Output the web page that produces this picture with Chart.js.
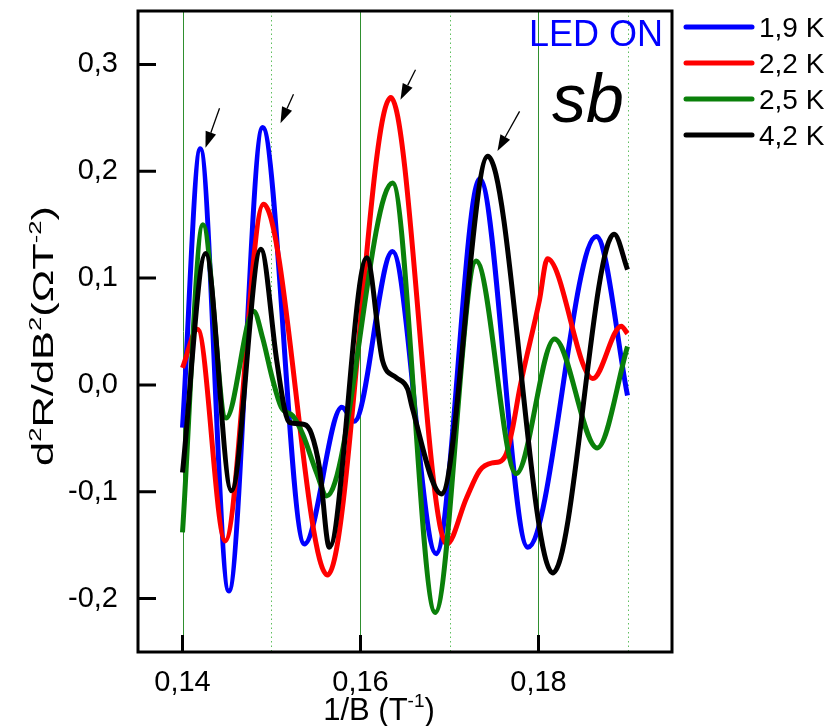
<!DOCTYPE html>
<html>
<head>
<meta charset="utf-8">
<script src="https://cdn.jsdelivr.net/npm/chart.js@4.4.1/dist/chart.umd.min.js"></script>
<style>
  html, body { margin: 0; padding: 0; background: #fff; }
</style>
</head>
<body>
<canvas id="sdh" width="832" height="726"></canvas>
<script>
// d2R/dB2 versus 1/B at four temperatures
const seriesLabels = ['1,9 K', '2,2 K', '2,5 K', '4,2 K'];
const seriesColors = ['#0000ff', '#ff0000', '#0a800a', '#000000'];

const invB_19 = [0.1400, 0.1420, 0.1452, 0.1490, 0.1537, 0.1579, 0.1593, 0.1636, 0.1685, 0.1734, 0.1788, 0.1865, 0.1900];
const d2R_19  = [-0.040, 0.221, -0.193, 0.241, -0.149, -0.021, -0.034, 0.125, -0.158, 0.193, -0.152, 0.139, -0.010];

const invB_22 = [0.1400, 0.1417, 0.1448, 0.1491, 0.1563, 0.1634, 0.1697, 0.1719, 0.1734, 0.1748, 0.1756, 0.1764, 0.1771, 0.1779, 0.1801, 0.1810, 0.1861, 0.1893, 0.1900];
const d2R_22  = [0.016, 0.052, -0.146, 0.169, -0.178, 0.269, -0.149, -0.106, -0.080, -0.073, -0.072, -0.064, -0.040, -0.003, 0.079, 0.118, 0.006, 0.055, 0.048];

const invB_25 = [0.1400, 0.1423, 0.1449, 0.1480, 0.1490, 0.1501, 0.1511, 0.1524, 0.1535, 0.1551, 0.1562, 0.1636, 0.1684, 0.1730, 0.1775, 0.1818, 0.1866, 0.1900];
const d2R_25  = [-0.138, 0.150, -0.031, 0.069, 0.044, 0.006, -0.021, -0.029, -0.046, -0.083, -0.104, 0.189, -0.213, 0.116, -0.083, 0.043, -0.059, 0.036];

const invB_42 = [0.1400, 0.1426, 0.1455, 0.1488, 0.1506, 0.1515, 0.1520, 0.1537, 0.1545, 0.1554, 0.1565, 0.1607, 0.1625, 0.1640, 0.1653, 0.1658, 0.1691, 0.1743, 0.1816, 0.1885, 0.1900];
const d2R_42  = [-0.082, 0.123, -0.099, 0.127, 0.022, -0.024, -0.035, -0.037, -0.046, -0.078, -0.152, 0.119, 0.022, 0.007, -0.004, -0.021, -0.102, 0.214, -0.176, 0.141, 0.108];

const xTickValues = [0.14, 0.16, 0.18];
const xMinorGrid = [0.15, 0.17, 0.19];
const yTickValues = [-0.2, -0.1, 0.0, 0.1, 0.2, 0.3];

// arrows marking the peaks: [tail x, tail y, head x, head y] in axis units
const peakArrows = [
  [0.14416, 0.259, 0.14258, 0.222],
  [0.15247, 0.272, 0.15101, 0.245],
  [0.16618, 0.295, 0.16449, 0.267],
  [0.17787, 0.256, 0.17539, 0.219]
];

const FONT = "'Liberation Sans', Arial, sans-serif";

const toPoints = (xs, ys) => xs.map((x, i) => ({ x, y: ys[i] }));
const comma = (v, d) => v.toFixed(d).replace('.', ',');

const curves = [
  toPoints(invB_19, d2R_19),
  toPoints(invB_22, d2R_22),
  toPoints(invB_25, d2R_25),
  toPoints(invB_42, d2R_42)
];

function drawArrow(ctx, x1, y1, x2, y2) {
  const ang = Math.atan2(y2 - y1, x2 - x1);
  const len = 16, half = 5.5;
  const bx = x2 - len * Math.cos(ang), by = y2 - len * Math.sin(ang);
  ctx.beginPath();
  ctx.moveTo(x1, y1);
  ctx.lineTo(bx, by);
  ctx.stroke();
  ctx.beginPath();
  ctx.moveTo(x2, y2);
  ctx.lineTo(bx + half * Math.sin(ang), by - half * Math.cos(ang));
  ctx.lineTo(bx - half * Math.sin(ang), by + half * Math.cos(ang));
  ctx.closePath();
  ctx.fill();
}

// text made of normal and raised runs, centred on the current origin
function drawRuns(ctx, runs, size) {
  const big = size + 'px ' + FONT, small = Math.round(size * 0.6) + 'px ' + FONT;
  let w = 0;
  runs.forEach(([t, sup]) => { ctx.font = sup ? small : big; w += ctx.measureText(t).width; });
  let x = -w / 2;
  runs.forEach(([t, sup]) => {
    ctx.font = sup ? small : big;
    ctx.fillText(t, x, sup ? -size * 0.42 : 0);
    x += ctx.measureText(t).width;
  });
}

const frame = {
  id: 'frame',
  beforeDatasetsDraw(chart) {
    const { ctx, chartArea: a, scales: { x } } = chart;
    ctx.save();
    ctx.lineWidth = 1;
    ctx.strokeStyle = '#2f8f2f';
    xTickValues.forEach(v => {
      const px = Math.round(x.getPixelForValue(v)) + 0.5;
      ctx.beginPath(); ctx.moveTo(px, a.top); ctx.lineTo(px, a.bottom); ctx.stroke();
    });
    ctx.strokeStyle = '#5fbf5f';
    ctx.setLineDash([1.5, 3]);
    xMinorGrid.forEach(v => {
      const px = Math.round(x.getPixelForValue(v)) + 0.5;
      ctx.beginPath(); ctx.moveTo(px, a.top); ctx.lineTo(px, a.bottom); ctx.stroke();
    });
    ctx.restore();
  },
  afterDatasetsDraw(chart) {
    const { ctx, chartArea: a, scales: { x, y } } = chart;
    ctx.save();

    // box and inward ticks
    ctx.strokeStyle = '#000';
    ctx.lineWidth = 3;
    ctx.strokeRect(a.left, a.top, a.right - a.left, a.bottom - a.top);
    ctx.beginPath();
    xTickValues.forEach(v => {
      const px = x.getPixelForValue(v);
      ctx.moveTo(px, a.bottom); ctx.lineTo(px, a.bottom - 17);
    });
    yTickValues.forEach(v => {
      const py = y.getPixelForValue(v);
      ctx.moveTo(a.left, py); ctx.lineTo(a.left + 18, py);
    });
    ctx.stroke();

    // peak arrows
    ctx.lineWidth = 1.3;
    ctx.fillStyle = '#000';
    peakArrows.forEach(([tx, ty, hx, hy]) => {
      drawArrow(ctx, x.getPixelForValue(tx), y.getPixelForValue(ty),
                     x.getPixelForValue(hx), y.getPixelForValue(hy));
    });

    // labels inside the frame
    ctx.textBaseline = 'alphabetic';
    ctx.textAlign = 'right';
    ctx.fillStyle = '#0000ff';
    ctx.font = '36px ' + FONT;
    ctx.fillText('LED ON', a.right - 9, a.top + 35);
    ctx.textAlign = 'left';
    ctx.fillStyle = '#000';
    ctx.font = 'italic 68px ' + FONT;
    ctx.fillText('sb', a.right - 120, a.top + 111);

    // legend to the right of the frame
    ctx.font = '28px ' + FONT;
    chart.data.datasets.forEach((ds, i) => {
      const ly = 27 + i * 36;
      ctx.strokeStyle = ds.borderColor;
      ctx.lineWidth = 5;
      ctx.lineCap = 'round';
      ctx.beginPath(); ctx.moveTo(686, ly); ctx.lineTo(752, ly); ctx.stroke();
      ctx.fillStyle = '#000';
      ctx.fillText(ds.label, 759, ly + 10);
    });

    // axis titles
    ctx.fillStyle = '#000';
    ctx.textAlign = 'left';
    ctx.save();
    ctx.translate(379, 720);
    drawRuns(ctx, [['1/B (T', false], ['-1', true], [')', false]], 31);
    ctx.restore();

    ctx.save();
    ctx.translate(53, 336);
    ctx.rotate(-Math.PI / 2);
    ctx.scale(1.5, 1);
    drawRuns(ctx, [['d', false], ['2', true], ['R/dB', false], ['2', true], ['(\u03A9T', false], ['-2', true], [')', false]], 29);
    ctx.restore();

    ctx.restore();
  }
};

new Chart(document.getElementById('sdh'), {
  type: 'line',
  data: {
    datasets: curves.map((pts, i) => ({
      label: seriesLabels[i],
      data: pts,
      borderColor: seriesColors[i],
      borderWidth: 5,
      pointRadius: 0,
      fill: false,
      cubicInterpolationMode: 'monotone',
      order: 3 - i
    }))
  },
  options: {
    responsive: false,
    animation: false,
    events: [],
    layout: { padding: { top: 11, right: 160, bottom: 0, left: 0 } },
    plugins: { legend: { display: false }, tooltip: { enabled: false } },
    scales: {
      x: {
        type: 'linear',
        min: 0.135,
        max: 0.195,
        grid: { display: false, drawTicks: false },
        border: { display: false },
        afterBuildTicks: s => { s.ticks = xTickValues.map(v => ({ value: v })); },
        afterFit: s => { s.height = 74; s.paddingLeft = 0; s.paddingRight = 0; },
        ticks: {
          color: '#000',
          padding: 14,
          font: { family: FONT, size: 29 },
          callback: v => comma(v, 2)
        }
      },
      y: {
        type: 'linear',
        min: -0.25,
        max: 0.35,
        grid: { display: false, drawTicks: false },
        border: { display: false },
        afterBuildTicks: s => { s.ticks = yTickValues.map(v => ({ value: v })); },
        afterFit: s => { s.width = 138; s.paddingTop = 0; s.paddingBottom = 0; },
        ticks: {
          color: '#000',
          padding: 20,
          font: { family: FONT, size: 29 },
          callback: v => comma(v, 1)
        }
      }
    }
  },
  plugins: [frame]
});
</script>
</body>
</html>
